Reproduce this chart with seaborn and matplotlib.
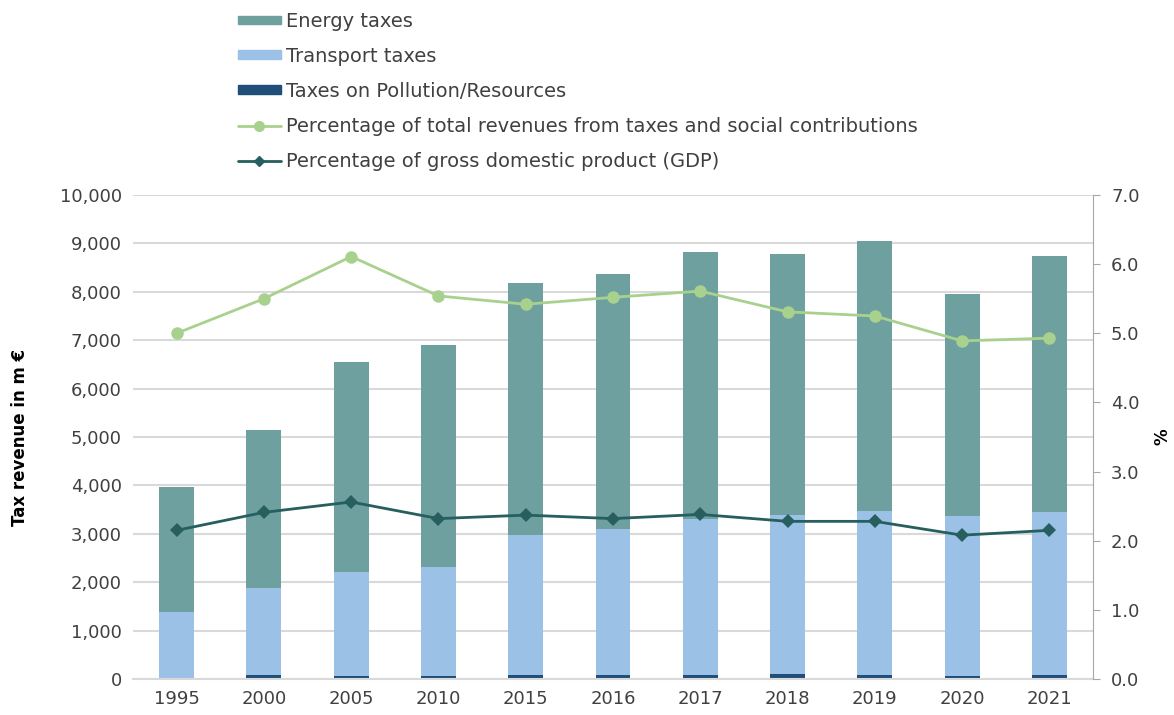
import seaborn as sns
import matplotlib.pyplot as plt
import matplotlib.patches as mpatches
import matplotlib.lines as mlines
import numpy as np
import pandas as pd

# Environmental tax revenue (m EUR) and shares (%)
years = ['1995', '2000', '2005', '2010', '2015', '2016', '2017', '2018', '2019', '2020', '2021']
pollution = [5, 75, 55, 55, 75, 75, 75, 100, 75, 55, 75]
transport = [1385, 1795, 2165, 2265, 2910, 3020, 3225, 3290, 3405, 3320, 3385]
energy = [2570, 3275, 4335, 4580, 5190, 5265, 5515, 5385, 5565, 4575, 5285]
pct_revenue = [5.00, 5.50, 6.11, 5.54, 5.42, 5.52, 5.61, 5.31, 5.25, 4.89, 4.93]
pct_gdp = [2.15, 2.41, 2.56, 2.32, 2.37, 2.32, 2.38, 2.28, 2.28, 2.08, 2.15]

df = pd.DataFrame({'year': years, 'pollution': pollution,
                   'transport': transport, 'energy': energy})
df['base_energy'] = df['pollution'] + df['transport']

c_energy = '#6FA0A0'
c_transport = '#9BC2E6'
c_pollution = '#1F4E79'
c_rev = '#A9D18E'
c_gdp = '#275E5E'
txt = '#404040'

sns.set_style('white')
plt.rcParams['font.family'] = ['DejaVu Sans']

fig = plt.figure(figsize=(11.74, 7.15), dpi=100)
ax = fig.add_axes([133 / 1174, 36 / 715, (1093 - 133) / 1174, (679 - 195) / 715])

sns.barplot(data=df, x='year', y='pollution', color=c_pollution, width=0.4,
            saturation=1, linewidth=0, ax=ax)
sns.barplot(data=df, x='year', y='transport', bottom=df['pollution'], color=c_transport,
            width=0.4, saturation=1, linewidth=0, ax=ax)
sns.barplot(data=df, x='year', y='energy', bottom=df['base_energy'], color=c_energy,
            width=0.4, saturation=1, linewidth=0, ax=ax)

ax.set_ylim(0, 10000)
ax.set_xlim(-0.5, 10.5)
ax.set_yticks(np.arange(0, 10001, 1000))
ax.set_yticklabels([f'{v:,}' for v in range(0, 10001, 1000)])
ax.grid(axis='y', color='#D9D9D9', linewidth=1.5)
ax.set_axisbelow(True)
for s in ['top', 'left', 'right']:
    ax.spines[s].set_visible(False)
ax.spines['bottom'].set_color('#D9D9D9')
ax.spines['bottom'].set_linewidth(1.5)
ax.tick_params(axis='both', length=0, labelsize=13, colors=txt, pad=8)
ax.set_xlabel('')
ax.set_ylabel('Tax revenue in m €', fontsize=12, fontweight='bold', color='black')
ax.yaxis.set_label_coords(-0.108, 0.5)

# secondary axis for the percentages
ax2 = ax.twinx()
pos = np.arange(len(years))
sns.lineplot(x=pos, y=pct_revenue, color=c_rev, linewidth=2, marker='o', markersize=9,
             markeredgewidth=0, ax=ax2)
sns.lineplot(x=pos, y=pct_gdp, color=c_gdp, linewidth=2, marker='D', markersize=7,
             markeredgewidth=0, ax=ax2)
ax2.set_ylim(0, 7)
ax2.set_yticks(np.arange(0, 7.1, 1))
ax2.set_yticklabels([f'{v:.1f}' for v in np.arange(0, 7.1, 1)])
for s in ['top', 'left', 'bottom']:
    ax2.spines[s].set_visible(False)
ax2.spines['right'].set_visible(True)
ax2.spines['right'].set_color('#A6A6A6')
ax2.tick_params(axis='y', length=5, color='#A6A6A6', labelsize=13, labelcolor=txt, pad=8)
ax2.set_ylabel('%', fontsize=12, fontweight='bold', color='black', labelpad=10)
ax2.grid(False)

handles = [
    mpatches.Patch(color=c_energy, label='Energy taxes'),
    mpatches.Patch(color=c_transport, label='Transport taxes'),
    mpatches.Patch(color=c_pollution, label='Taxes on Pollution/Resources'),
    mlines.Line2D([], [], color=c_rev, linewidth=2, marker='o', markersize=7,
                  label='Percentage of total revenues from taxes and social contributions'),
    mlines.Line2D([], [], color=c_gdp, linewidth=2, marker='D', markersize=5,
                  label='Percentage of gross domestic product (GDP)'),
]
fig.legend(handles=handles, loc='upper left', bbox_to_anchor=(220 / 1174, 1.008),
           frameon=False, fontsize=14, labelcolor=txt, handlelength=2.25,
           handleheight=0.3, handletextpad=0.25, labelspacing=0.82)

plt.savefig('out.png', dpi=100)
